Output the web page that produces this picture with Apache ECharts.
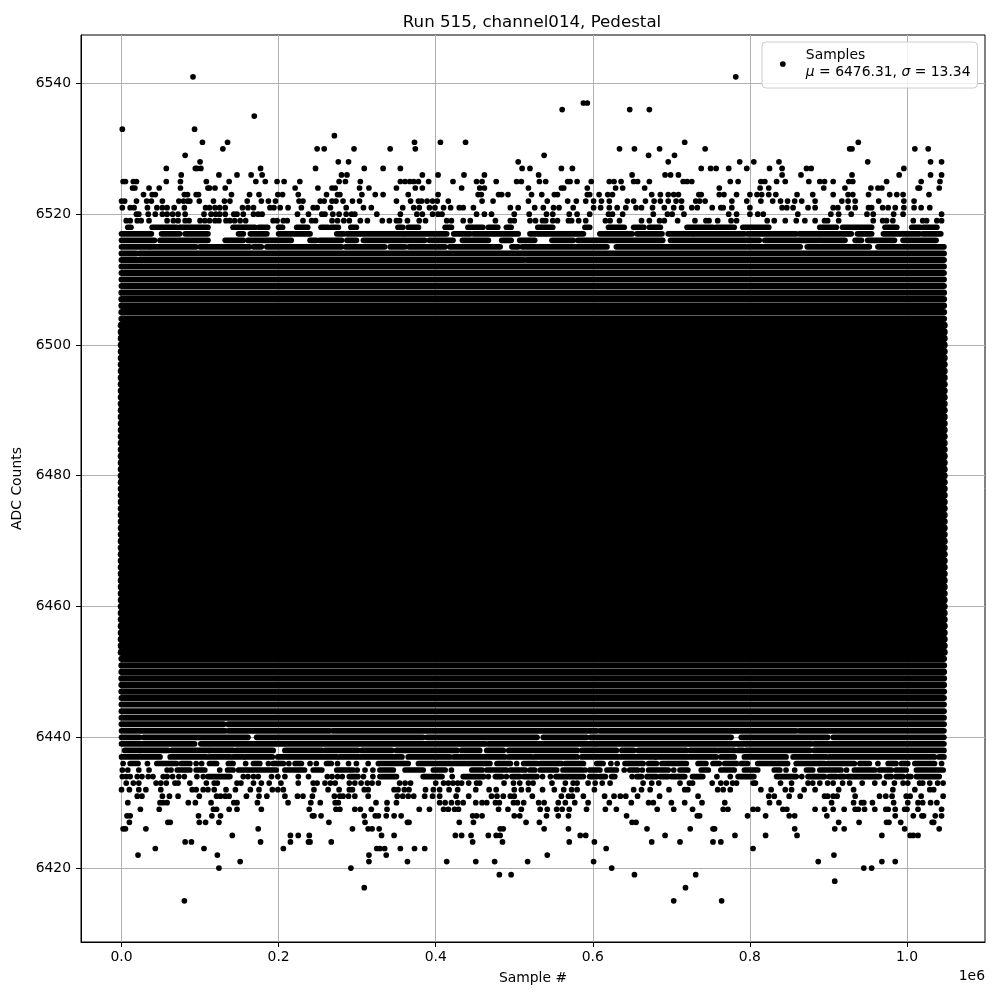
<!DOCTYPE html>
<html>
<head>
<meta charset="utf-8">
<title>Run 515, channel014, Pedestal</title>
<script src="https://cdn.jsdelivr.net/npm/echarts@6/dist/echarts.min.js"></script>
<style>
  html, body { margin: 0; padding: 0; background: #fff; }
  #chart { width: 1000px; height: 1000px; }
</style>
</head>
<body>
<div id="chart"></div>
<script>
// x values are in thousands of samples, y values in ADC counts

const xTicks = [0, 200, 400, 600, 800, 1000]
const yTicks = [6420, 6440, 6460, 6480, 6500, 6520, 6540]

// single samples, one array per ADC count
const dots6541 = [91, 782]
const dots6537 = [588, 593]
const dots6536 = [561, 647, 672]
const dots6535 = [169]
const dots6533 = [1, 93]
const dots6532 = [271]
const dots6531 = [103, 135, 373, 406, 438, 717, 938]
const dots6530 = [129, 249, 258, 296, 342, 374, 634, 653, 685, 743, 927, 930, 1010, 1027]
const dots6529 = [81, 538, 671, 704]
const dots6528 = [100, 276, 289, 505, 696, 787, 805, 837, 950, 1030, 1044]
const dots6527 = [57, 94, 96, 101, 177, 247, 309, 333, 355, 510, 520, 560, 574, 738, 750, 757, 773, 796, 825, 841, 872, 878, 996]
const dots6526 = [76, 124, 147, 165, 179, 280, 287, 383, 403, 436, 462, 531, 650, 692, 699, 709, 841, 865, 930, 990, 1030, 1044]
const dots6525 = [2, 5, 15, 19, 57, 75, 108, 137, 171, 183, 198, 207, 227, 277, 285, 304, 355, 361, 367, 372, 378, 391, 422, 452, 459, 477, 503, 509, 532, 540, 568, 571, 580, 598, 621, 627, 636, 652, 657, 672, 715, 720, 726, 775, 785, 814, 819, 834, 845, 875, 889, 895, 906, 926, 931, 974, 1018, 1042]
const dots6524 = [14, 17, 35, 48, 75, 110, 112, 119, 132, 221, 250, 268, 272, 303, 315, 350, 374, 383, 433, 456, 462, 518, 560, 563, 593, 629, 638, 666, 761, 813, 824, 894, 921, 954, 963, 968, 1014, 1016, 1041]
const dots6523 = [28, 39, 43, 80, 84, 95, 98, 140, 163, 175, 199, 205, 225, 261, 275, 278, 306, 323, 333, 365, 403, 454, 458, 480, 484, 492, 522, 535, 551, 555, 593, 596, 608, 619, 625, 675, 686, 696, 703, 709, 735, 738, 761, 767, 783, 800, 809, 815, 824, 833, 860, 880, 906, 925, 931, 951, 978, 987, 995, 1028]
const dots6522 = [0, 4, 19, 32, 38, 52, 73, 79, 84, 87, 99, 117, 131, 138, 160, 178, 187, 196, 226, 231, 253, 258, 268, 273, 282, 294, 303, 350, 368, 378, 382, 389, 396, 402, 416, 459, 473, 518, 542, 568, 579, 591, 601, 611, 621, 644, 652, 667, 678, 686, 696, 706, 713, 731, 736, 743, 777, 796, 814, 829, 839, 848, 857, 866, 883, 917, 925, 934, 964, 996, 1009]
const dots6521 = [1, 11, 16, 33, 45, 52, 58, 67, 80, 107, 112, 119, 125, 132, 154, 161, 168, 189, 194, 202, 212, 229, 244, 249, 266, 286, 308, 318, 358, 372, 379, 392, 399, 410, 419, 430, 435, 448, 495, 505, 526, 537, 550, 557, 575, 601, 610, 621, 631, 642, 655, 662, 676, 691, 703, 713, 726, 733, 752, 763, 766, 777, 800, 841, 847, 855, 874, 883, 906, 912, 925, 934, 951, 955, 969, 976, 985, 996, 1009, 1018, 1029]
const dots6520 = [19, 22, 34, 43, 52, 58, 65, 72, 81, 105, 114, 120, 125, 132, 143, 147, 155, 168, 174, 179, 224, 238, 255, 259, 269, 277, 286, 293, 297, 325, 355, 376, 383, 396, 403, 408, 452, 462, 471, 500, 519, 541, 549, 570, 580, 596, 620, 625, 638, 677, 695, 701, 716, 773, 783, 800, 810, 817, 861, 903, 913, 929, 949, 957, 983, 995, 1044]
const dots6519 = [6, 11, 20, 25, 35, 58, 66, 72, 81, 86, 100, 106, 112, 119, 124, 133, 138, 144, 151, 158, 193, 198, 206, 211, 231, 242, 247, 268, 275, 283, 290, 304, 313, 332, 341, 350, 354, 364, 379, 387, 414, 420, 435, 444, 476, 495, 500, 520, 527, 536, 540, 549, 555, 569, 573, 582, 591, 616, 622, 634, 662, 672, 685, 691, 708, 730, 744, 748, 759, 776, 783, 822, 831, 845, 859, 870, 883, 895, 899, 913, 957, 969, 974, 982, 1008, 1020, 1025, 1038, 1044]
const dots6436 = [2, 33, 95, 102, 158, 187, 213, 240, 248, 275, 289, 299, 314, 327, 503, 623, 631, 963, 1044]
const dots6435 = [1, 8, 22, 35, 58, 63, 125, 300, 310, 320, 420, 590, 640, 663, 703, 846, 857, 923]
const dots6434 = [1, 6, 11, 20, 26, 34, 40, 53, 58, 65, 73, 80, 96, 104, 155, 161, 168, 174, 191, 199, 208, 225, 238, 262, 268, 275, 281, 308, 320, 421, 467, 490, 536, 546, 650, 758, 775, 866]
const dots6433 = [6, 15, 22, 44, 50, 57, 68, 72, 87, 108, 118, 122, 147, 152, 168, 178, 188, 203, 225, 244, 249, 259, 266, 272, 290, 297, 305, 313, 319, 327, 354, 361, 368, 400, 410, 416, 422, 428, 433, 442, 452, 456, 487, 499, 507, 518, 524, 548, 565, 575, 580, 594, 603, 612, 622, 664, 675, 684, 711, 723, 727, 752, 763, 770, 778, 783, 804, 807, 839, 853, 874, 880, 889, 899, 906, 918, 927, 943, 959, 971, 984, 995, 1001, 1016, 1020, 1029, 1039, 1046]
const dots6432 = [0, 10, 22, 31, 50, 90, 95, 104, 110, 118, 133, 145, 164, 175, 192, 199, 206, 245, 263, 277, 290, 294, 309, 314, 347, 352, 360, 366, 387, 397, 405, 417, 428, 451, 468, 477, 500, 509, 518, 536, 551, 563, 573, 580, 602, 652, 662, 673, 697, 717, 721, 759, 766, 775, 814, 827, 845, 853, 869, 883, 913, 932, 982, 1010, 1029, 1034]
const dots6431 = [20, 26, 52, 61, 72, 99, 121, 126, 132, 137, 159, 175, 185, 208, 224, 231, 243, 271, 278, 282, 289, 297, 314, 351, 358, 365, 372, 386, 396, 405, 426, 442, 471, 478, 486, 495, 500, 523, 560, 569, 574, 588, 615, 627, 635, 642, 657, 685, 734, 824, 831, 850, 864, 895, 899, 906, 911, 934, 965, 973, 981, 999, 1004, 1018, 1046]
const dots6430 = [8, 49, 53, 58, 85, 94, 114, 143, 147, 173, 212, 241, 253, 272, 276, 324, 338, 350, 405, 412, 420, 428, 435, 451, 459, 465, 476, 481, 499, 504, 512, 531, 538, 556, 565, 577, 594, 621, 649, 671, 677, 700, 717, 739, 768, 825, 837, 904, 932, 942, 945, 956, 983, 1001, 1014, 1020, 1030, 1038]
const dots6429 = [24, 48, 117, 121, 137, 147, 178, 239, 273, 278, 297, 304, 318, 338, 379, 392, 410, 416, 424, 429, 480, 492, 509, 533, 542, 554, 561, 570, 592, 616, 630, 682, 703, 727, 766, 772, 804, 810, 842, 847, 883, 895, 906, 920, 934, 938, 946, 959, 973, 976, 985, 997, 1000, 1014, 1044]
const dots6428 = [7, 11, 98, 115, 126, 243, 245, 254, 309, 323, 327, 337, 347, 356, 447, 452, 459, 500, 507, 541, 556, 569, 643, 733, 736, 797, 820, 850, 857, 898, 985, 1008, 1019, 1021, 1036, 1044]
const dots6427 = [10, 59, 62, 99, 107, 124, 264, 310, 364, 366, 430, 448, 515, 532, 650, 655, 913, 939, 974, 977, 992, 1032, 1034]
const dots6426 = [2, 5, 31, 174, 294, 314, 319, 328, 482, 486, 538, 569, 669, 724, 753, 755, 857, 908, 920, 997, 1041]
const dots6425 = [141, 215, 225, 239, 331, 347, 425, 433, 445, 467, 477, 482, 584, 591, 692, 781, 820, 860, 968, 1004, 1008, 1014]
const dots6424 = [81, 89, 177, 215, 238, 240, 267, 447, 485, 570, 602, 675, 711, 753, 763]
const dots6423 = [43, 105, 206, 325, 329, 335, 355, 373, 386, 617, 804]
const dots6422 = [21, 122, 315, 337, 542, 907]
const dots6421 = [151, 315, 364, 414, 451, 475, 517, 601, 887, 968, 985]
const dots6420 = [124, 292, 624, 945, 955]
const dots6419 = [481, 496, 653, 731]
const dots6418 = [908]
const dots6417 = [309, 718]
const dots6415 = [80, 703, 764]

const dotRows = [
  [6541, dots6541], [6537, dots6537], [6536, dots6536], [6535, dots6535], [6533, dots6533],
  [6532, dots6532], [6531, dots6531], [6530, dots6530], [6529, dots6529], [6528, dots6528],
  [6527, dots6527], [6526, dots6526], [6525, dots6525], [6524, dots6524], [6523, dots6523],
  [6522, dots6522], [6521, dots6521], [6520, dots6520], [6519, dots6519],
  [6436, dots6436], [6435, dots6435], [6434, dots6434], [6433, dots6433], [6432, dots6432],
  [6431, dots6431], [6430, dots6430], [6429, dots6429], [6428, dots6428], [6427, dots6427],
  [6426, dots6426], [6425, dots6425], [6424, dots6424], [6423, dots6423], [6422, dots6422],
  [6421, dots6421], [6420, dots6420], [6419, dots6419], [6418, dots6418], [6417, dots6417],
  [6415, dots6415]
]

// stretches where the samples overlap into a solid bar, as [from, to]
const runs6518 = [[8, 12], [39, 70], [74, 110], [142, 170], [175, 186], [200, 205], [223, 237], [254, 263], [267, 276], [292, 299], [331, 331], [352, 358], [365, 378], [412, 420], [441, 460], [467, 479], [490, 496], [530, 549], [590, 596], [620, 640], [652, 665], [672, 686], [714, 714], [720, 753], [757, 780], [791, 824], [889, 910], [918, 955], [972, 987], [1006, 1017], [1021, 1038]]
const runs6517 = [[0, 38], [51, 74], [81, 110], [149, 155], [164, 185], [200, 240], [274, 283], [287, 359], [361, 414], [423, 444], [448, 505], [520, 588], [609, 650], [656, 688], [696, 727], [729, 793], [797, 859], [863, 929], [937, 955], [970, 1016], [1020, 1043]]
const runs6516 = [[0, 42], [49, 110], [132, 155], [161, 216], [240, 248], [252, 280], [287, 299], [308, 386], [392, 422], [434, 467], [484, 496], [507, 526], [548, 575], [581, 689], [699, 812], [819, 889], [891, 921], [934, 942], [950, 984], [995, 1037]]
const runs6515 = [[0, 35], [37, 95], [100, 163], [168, 178], [185, 280], [285, 335], [342, 361], [366, 412], [418, 482], [497, 505], [510, 618], [630, 795], [798, 864], [873, 952], [963, 1047]]
const runs6514 = [[0, 19], [23, 1047]]
const runs6513 = [[0, 512], [516, 1047]]
const runs6442 = [[0, 130], [136, 1047]]
const runs6441 = [[0, 132], [136, 265], [269, 605], [609, 859], [863, 1047]]
const runs6440 = [[0, 23], [28, 161], [172, 384], [389, 529], [537, 592], [597, 776], [789, 899], [906, 1047]]
const runs6439 = [[0, 93], [101, 463], [467, 603], [605, 878], [882, 1047]]
const runs6438 = [[4, 23], [25, 59], [64, 110], [112, 142], [146, 193], [208, 255], [259, 301], [306, 344], [350, 427], [433, 456], [465, 486], [493, 580], [586, 630], [637, 652], [658, 719], [724, 758], [761, 780], [785, 791], [795, 876], [882, 1047]]
const runs6437 = [[0, 49], [62, 108], [112, 138], [142, 155], [158, 192], [199, 274], [278, 357], [365, 418], [423, 488], [493, 522], [526, 580], [586, 679], [681, 757], [763, 780], [793, 846], [855, 897], [901, 1035], [1041, 1047]]
const runs6436 = [[11, 21], [45, 70], [76, 87], [112, 121], [136, 142], [168, 176], [193, 206], [221, 229], [261, 267], [329, 365], [378, 469], [478, 495], [512, 529], [533, 560], [565, 588], [605, 613], [641, 664], [671, 681], [688, 719], [734, 744], [753, 761], [768, 783], [789, 797], [810, 848], [859, 895], [899, 933], [940, 952], [976, 986], [993, 1001], [1010, 1035]]
const runs6435 = [[71, 87], [95, 106], [135, 142], [149, 197], [208, 233], [244, 255], [274, 295], [329, 346], [361, 384], [397, 412], [446, 459], [465, 490], [495, 514], [520, 526], [533, 554], [562, 586], [596, 609], [618, 630], [647, 657], [671, 696], [711, 721], [738, 747], [763, 780], [793, 810], [831, 838], [872, 880], [889, 916], [933, 959], [965, 980], [986, 999], [1012, 1046]]
const runs6434 = [[110, 138], [290, 301], [329, 350], [384, 408], [435, 461], [476, 484], [497, 507], [512, 529], [553, 588], [596, 605], [609, 616], [624, 628], [656, 662], [669, 681], [686, 696], [700, 717], [727, 740], [785, 805], [834, 859], [874, 895], [901, 910], [914, 920], [925, 965], [974, 980], [986, 995], [1001, 1005], [1012, 1041]]

const runRows = [
  [6518, runs6518], [6517, runs6517], [6516, runs6516], [6515, runs6515], [6514, runs6514],
  [6513, runs6513], [6442, runs6442], [6441, runs6441], [6440, runs6440], [6439, runs6439],
  [6438, runs6438], [6437, runs6437], [6436, runs6436], [6435, runs6435], [6434, runs6434]
]

// counts that are filled across the whole record
const firstSample = 0
const lastSample = 1047
const fullRows = [6443, 6444, 6445, 6446, 6447, 6448, 6449, 6450, 6451, 6452, 6453, 6454, 6455, 6456, 6457, 6458, 6459, 6460,
  6461, 6462, 6463, 6464, 6465, 6466, 6467, 6468, 6469, 6470, 6471, 6472, 6473, 6474, 6475, 6476, 6477, 6478, 6479, 6480,
  6481, 6482, 6483, 6484, 6485, 6486, 6487, 6488, 6489, 6490, 6491, 6492, 6493, 6494, 6495, 6496, 6497, 6498, 6499, 6500,
  6501, 6502, 6503, 6504, 6505, 6506, 6507, 6508, 6509, 6510, 6511, 6512]

var dotData = []
dotRows.forEach(function (row) {
  row[1].forEach(function (x) { dotData.push([x, row[0]]) })
})

var runData = []
runRows.forEach(function (row) {
  row[1].forEach(function (r) { runData.push([r[0], r[1], row[0]]) })
})
fullRows.forEach(function (y) { runData.push([firstSample, lastSample, y]) })

var dotSize = 5.7
var font = 'DejaVu Sans'

function rowWidth (y) {
  // the middle of the band has no white left between the rows
  if (y >= 6453 && y <= 6503) return 7.6
  if (y >= 6447 && y <= 6508) return 6.3
  if (y >= 6442 && y <= 6514) return 6
  return dotSize
}

var myChart = echarts.init(document.getElementById('chart'), null, { renderer: 'canvas' })
myChart.setOption({
  animation: false,
  backgroundColor: '#fff',
  title: {
    text: 'Run 515, channel014, Pedestal',
    left: 527,
    top: 9,
    textAlign: 'center',
    textStyle: { fontFamily: font, fontWeight: 'normal', fontSize: 16.67, color: '#000' }
  },
  grid: {
    left: 81, top: 35, width: 904, height: 907,
    show: true, borderColor: '#000', borderWidth: 1, backgroundColor: '#fff'
  },
  legend: {
    data: ['Samples'],
    left: 762,
    top: 42,
    width: 216,
    padding: [5, 7, 7, 18],
    itemWidth: 36,
    itemHeight: 5.7,
    itemGap: 0,
    backgroundColor: 'rgba(255,255,255,0.8)',
    borderColor: '#ccc',
    borderWidth: 1,
    borderRadius: 4,
    formatter: function () {
      return 'Samples\n{i|μ} = 6476.31, {i|σ} = 13.34'
    },
    textStyle: {
      fontFamily: font, fontSize: 13.9, color: '#000', lineHeight: 17,
      rich: { i: { fontFamily: font, fontStyle: 'italic', fontSize: 13.9, lineHeight: 17 } }
    }
  },
  xAxis: {
    type: 'value',
    min: -51.6,
    max: 1099.3,
    name: 'Sample #',
    nameLocation: 'middle',
    nameGap: 29,
    nameTextStyle: { fontFamily: font, fontSize: 13.9, color: '#000' },
    axisLine: { onZero: false, lineStyle: { color: '#000', width: 1 } },
    axisTick: { customValues: xTicks, length: 5, lineStyle: { color: '#000', width: 1 } },
    axisLabel: {
      customValues: xTicks,
      margin: 8,
      fontFamily: font, fontSize: 13.9, color: '#000',
      formatter: function (v) { return (v / 1000).toFixed(1) }
    },
    splitLine: { show: true, customValues: xTicks, lineStyle: { color: '#b0b0b0', width: 1 } }
  },
  yAxis: {
    type: 'value',
    min: 6408.7,
    max: 6547.4,
    name: 'ADC Counts',
    nameLocation: 'middle',
    nameGap: 45,
    nameTextStyle: { fontFamily: font, fontSize: 13.9, color: '#000' },
    axisLine: { onZero: false, lineStyle: { color: '#000', width: 1 } },
    axisTick: { customValues: yTicks, length: 5, lineStyle: { color: '#000', width: 1 } },
    axisLabel: {
      customValues: yTicks,
      margin: 10,
      fontFamily: font, fontSize: 13.9, color: '#000',
      formatter: function (v) { return String(v) }
    },
    splitLine: { show: true, customValues: yTicks, lineStyle: { color: '#b0b0b0', width: 1 } }
  },
  graphic: [{
    type: 'text',
    right: 15,
    top: 969,
    style: { text: '1e6', fontFamily: font, fontSize: 13.9, fill: '#000' }
  }],
  series: [
    {
      name: 'Dense rows',
      type: 'custom',
      clip: true,
      data: runData,
      encode: { x: [0, 1], y: 2 },
      silent: true,
      renderItem: function (params, api) {
        var a = api.coord([api.value(0), api.value(2)])
        var b = api.coord([api.value(1), api.value(2)])
        return {
          type: 'line',
          shape: { x1: a[0], y1: a[1], x2: b[0], y2: b[1] },
          style: { stroke: '#000', lineWidth: rowWidth(api.value(2)), lineCap: 'round', fill: null }
        }
      }
    },
    {
      name: 'Samples',
      type: 'scatter',
      data: dotData,
      symbol: 'circle',
      symbolSize: dotSize,
      itemStyle: { color: '#000', opacity: 1 },
      silent: true
    }
  ]
})
</script>
</body>
</html>
